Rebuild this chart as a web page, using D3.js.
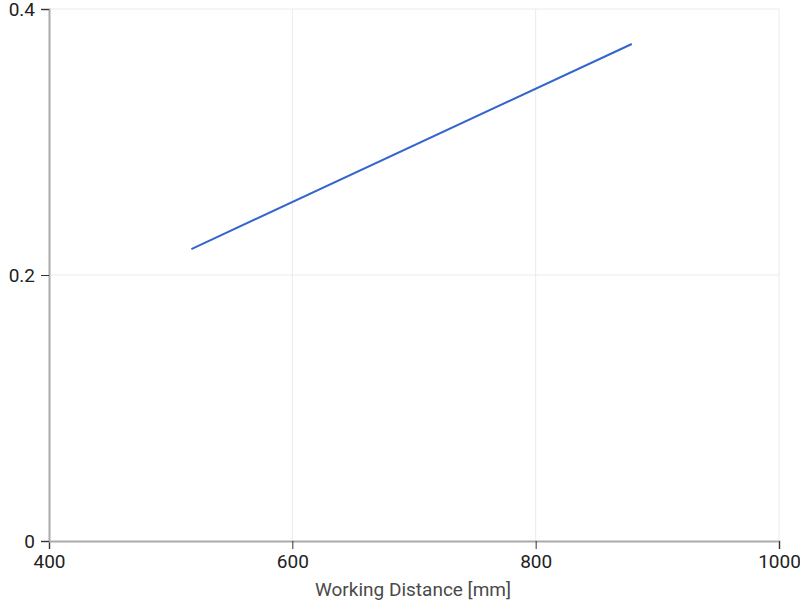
<!DOCTYPE html>
<html><head><meta charset="utf-8">
<script src="https://cdn.jsdelivr.net/npm/d3@7"></script>
<style>body{margin:0;background:#fff}svg{display:block}</style>
</head><body><svg id="c" width="800" height="602"></svg>
<script>
const xTicks = [400, 600, 800, 1000];
const yTicks = [0, 0.2, 0.4];
const distance = [517, 879];
const value = [0.2195, 0.3737];

const svg = d3.select("#c");
const m = {l:49, r:21, t:9, b:61};
const W = 800, H = 602;
const x = d3.scaleLinear().domain([400,1000]).range([m.l, W-m.r]);
const y = d3.scaleLinear().domain([0,0.4]).range([H-m.b, m.t]);
const font = "Roboto, 'Open Sans', sans-serif";

// grid
svg.append("g").selectAll("line").data(xTicks.slice(1)).join("line")
  .attr("x1", d=>x(d)).attr("x2", d=>x(d)).attr("y1", y(0)).attr("y2", y(0.4))
  .attr("stroke", "#ebebeb").attr("stroke-width", 1);
svg.append("g").selectAll("line").data(yTicks.slice(1)).join("line")
  .attr("x1", x(400)).attr("x2", x(1000)).attr("y1", d=>y(d)).attr("y2", d=>y(d))
  .attr("stroke", "#ebebeb").attr("stroke-width", 1);

// x axis
const xa = svg.append("g").attr("transform", `translate(0,${y(0)})`)
  .call(d3.axisBottom(x).tickValues(xTicks).tickFormat(d3.format("d")).tickSize(8).tickPadding(6));
xa.select(".domain").attr("stroke", "#aaa").attr("stroke-width", 2);
xa.selectAll(".tick line").attr("stroke", "#333");
xa.selectAll("text").attr("font-family", font).attr("font-size", 19).attr("fill", "#222");

// y axis
const ya = svg.append("g").attr("transform", `translate(${x(400)},0)`)
  .call(d3.axisLeft(y).tickValues(yTicks).tickFormat(d=>d===0?"0":d3.format(".1f")(d)).tickSize(8).tickPadding(6));
ya.select(".domain").attr("stroke", "#aaa").attr("stroke-width", 2);
ya.selectAll(".tick line").attr("stroke", "#333");
ya.selectAll("text").attr("font-family", font).attr("font-size", 19).attr("fill", "#222");

svg.append("text").attr("x", (x(400)+x(1000))/2 - 1).attr("y", 596)
  .attr("text-anchor", "middle").attr("font-family", font).attr("font-size", 19).attr("fill", "#4a4a4a")
  .text("Working Distance [mm]");

const data = distance.map((d,i)=>[d, value[i]]);
svg.append("path").datum(data)
  .attr("d", d3.line().x(d=>x(d[0])).y(d=>y(d[1])))
  .attr("fill", "none").attr("stroke", "#3366cc").attr("stroke-width", 2);
</script></body></html>
